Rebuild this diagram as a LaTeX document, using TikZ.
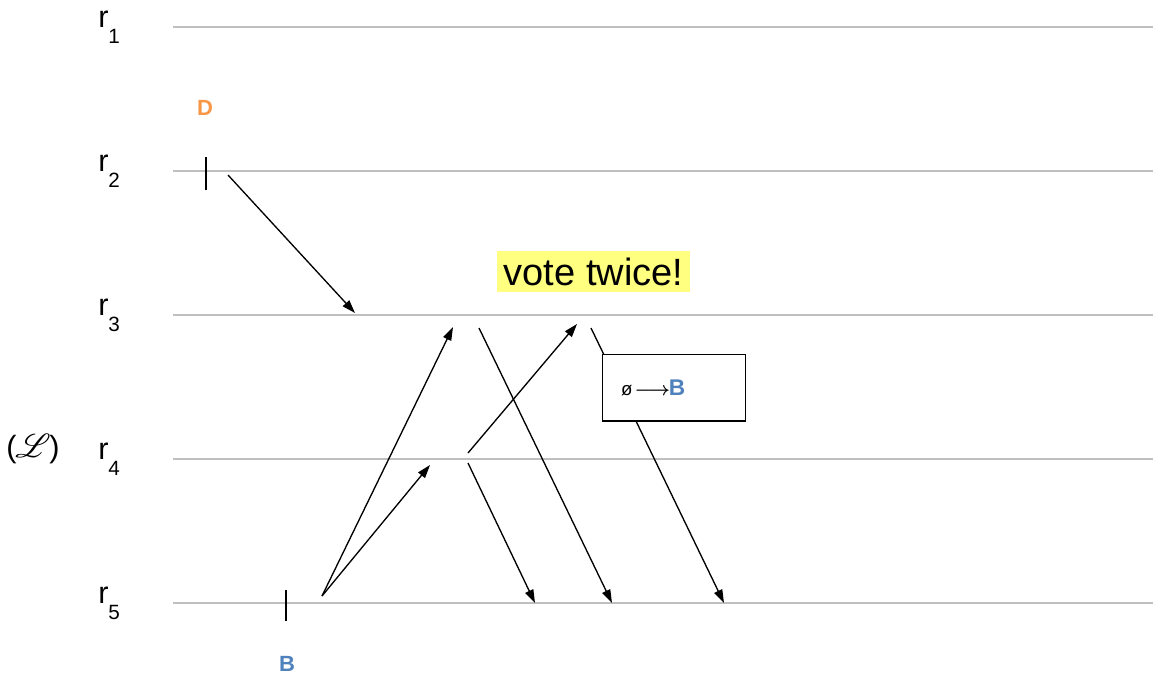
\documentclass[tikz,border=0pt]{standalone}
\usepackage{fontspec}
\setmainfont{Liberation Sans}
\usepackage{mathrsfs}
\usetikzlibrary{arrows.meta}
\definecolor{cLine}{HTML}{BFBFBF}
\definecolor{cOrange}{HTML}{F79646}
\definecolor{cBlue}{HTML}{4F81BD}
\definecolor{cHigh}{HTML}{FFFF80}
\begin{document}
\begin{tikzpicture}[x=0.75pt, y=-0.75pt,
  rline/.style={cLine, line width=1.3pt},
  rlab/.style={anchor=base west, inner sep=0pt, font=\fontsize{23}{26}\selectfont},
  who/.style={inner sep=0pt, font=\fontsize{16.5}{20}\selectfont\bfseries},
  tick/.style={line width=1pt},
  note/.style={fill=cHigh, inner sep=0pt, minimum width=145pt, minimum height=31pt,
               font=\fontsize{28.5}{32}\selectfont},
  ebox/.style={draw, fill=white, line width=1pt, align=left, text width=79.5pt,
               inner xsep=14pt, minimum height=50pt},
  arr/.style={-{Triangle[length=10pt, width=6.5pt]}, line width=1pt}]
\useasboundingbox (0,0) rectangle (1153,678);
% replica lines
\foreach \i/\y in {1/27, 2/171, 3/315, 4/459, 5/603} {
  \node[rlab] (r\i) at (98,\y) {r\raisebox{-12pt}{\fontsize{15.5}{17}\selectfont\i}};
  \coordinate (s\i) at (173,\y);
  \coordinate (e\i) at (1153,\y);
  \draw[rline] (s\i) -- (e\i);
}
\node[inner sep=0pt, font=\fontsize{23}{27}\selectfont] (lg) at (33,449) {(\kern-1pt$\mathscr{L}$\kern-1pt)};
% leaders
\node[who, text=cOrange] (d) at (205,108) {D};
\node[who, text=cBlue] (b) at (287,664) {B};
\coordinate (dt) at (206,157); \coordinate (db) at (206,190);
\coordinate (bt) at (286,590); \coordinate (bb) at (286,621);
\draw[tick] (dt) -- (db);
\draw[tick] (bt) -- (bb);
% messages
\coordinate (m1s) at (228,175); \coordinate (m1e) at (355,313);
\coordinate (b0) at (322,596);
\coordinate (m2e) at (453,327); \coordinate (m3e) at (430,465);
\coordinate (m4s) at (468,453); \coordinate (m4e) at (577,324);
\coordinate (m5s) at (479,328); \coordinate (m5e) at (612,603);
\coordinate (m6s) at (468,463); \coordinate (m6e) at (535,603);
\coordinate (m7s) at (591,328); \coordinate (m7e) at (724,603);
\draw[arr] (m1s) -- (m1e);
\draw[arr] (b0) -- (m2e);
\draw[arr] (b0) -- (m3e);
\draw[arr] (m4s) -- (m4e);
\draw[arr] (m5s) -- (m5e);
\draw[arr] (m6s) -- (m6e);
\draw[arr] (m7s) -- (m7e);
\node[ebox] (vb) at (674,387.5) {{\fontsize{14}{16}\selectfont ø}\,{\fontsize{15}{17}\selectfont\boldmath$\longrightarrow$}\hspace{-1pt}{\fontsize{17}{20}\selectfont\bfseries\color{cBlue}B}};
\node[note] (vt) at (593.5,271.5) {vote twice!};
\end{tikzpicture}
\end{document}
